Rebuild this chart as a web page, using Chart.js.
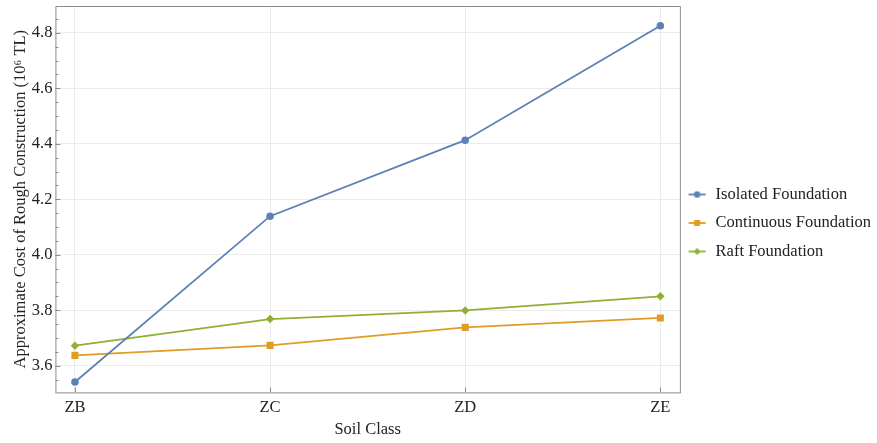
<!DOCTYPE html>
<html>
<head>
<meta charset="utf-8">
<script src="https://cdn.jsdelivr.net/npm/chart.js@4.4.0/dist/chart.umd.min.js"></script>
<style>
    html, body { margin: 0; padding: 0; background: #fff; }
</style>
</head>
<body>
<canvas id="graficoCosto" width="877" height="443"></canvas>
<script>
// Datos
const categorias = ['ZB', 'ZC', 'ZD', 'ZE'];
const isolated = [3.541, 4.139, 4.413, 4.826];
const continuous = [3.637, 3.673, 3.738, 3.772];
const raft = [3.672, 3.768, 3.799, 3.850];
const yTicks = [3.6, 3.8, 4.0, 4.2, 4.4, 4.6, 4.8];
const seriesNames = ['Isolated Foundation', 'Continuous Foundation', 'Raft Foundation'];

const colores = ['#5e81b5', '#e19c24', '#8fb032'];
const marcadores = ['circle', 'rect', 'rectRot'];
const radios = [3.8, 5, 4.2];
const fuente = { family: '"Liberation Serif", "Times New Roman", serif', size: 16.5 };

// Icono de leyenda: segmento con marcador
function iconoLeyenda(i) {
    const c = document.createElement('canvas');
    c.width = 32;
    c.height = 12;
    const ctx = c.getContext('2d');
    ctx.strokeStyle = colores[i];
    ctx.fillStyle = colores[i];
    ctx.lineWidth = 1.8;
    ctx.beginPath();
    ctx.moveTo(5, 6);
    ctx.lineTo(22, 6);
    ctx.stroke();
    Chart.helpers.drawPoint(ctx, { pointStyle: marcadores[i], radius: radios[i] * 0.85, rotation: 0 }, 13.5, 6);
    return c;
}

// Marco gris con marcas hacia dentro
const marco = {
    id: 'marco',
    afterDraw(chart) {
        const { ctx, chartArea: a, scales } = chart;
        ctx.save();
        ctx.strokeStyle = '#8c8c8c';
        ctx.lineWidth = 1;
        ctx.strokeRect(a.left + 0.5, a.top + 0.5, a.right - a.left, a.bottom - a.top);
        ctx.beginPath();
        const y = scales.y;
        for (let v = 3.5; v <= 4.9; v += 0.05) {
            const val = Math.round(v * 100) / 100;
            if (val < y.min || val > y.max) continue;
            const py = Math.round(y.getPixelForValue(val)) + 0.5;
            const mayor = yTicks.some(t => Math.abs(t - val) < 1e-6);
            ctx.moveTo(a.left, py);
            ctx.lineTo(a.left + (mayor ? 5 : 3), py);
        }
        const x = scales.x;
        categorias.forEach((c, i) => {
            const px = Math.round(x.getPixelForValue(i)) + 0.5;
            ctx.moveTo(px, a.bottom);
            ctx.lineTo(px, a.bottom - 5);
        });
        ctx.stroke();
        ctx.restore();
    }
};

const series = [isolated, continuous, raft];

new Chart(document.getElementById('graficoCosto').getContext('2d'), {
    type: 'line',
    data: {
        datasets: series.map((valores, i) => ({
            label: seriesNames[i],
            data: valores.map((v, j) => ({ x: j, y: v })),
            borderColor: colores[i],
            backgroundColor: colores[i],
            borderWidth: 1.8,
            pointStyle: marcadores[i],
            pointRadius: radios[i],
            pointBorderWidth: 0,
            tension: 0
        }))
    },
    options: {
        responsive: false,
        animation: false,
        devicePixelRatio: 1,
        layout: { padding: { left: 6, top: 6, bottom: 3, right: -4 } },
        plugins: {
            tooltip: { enabled: false },
            legend: {
                position: 'right',
                labels: {
                    color: '#222',
                    font: fuente,
                    usePointStyle: true,
                    pointStyleWidth: 15.5,
                    padding: 12,
                    generateLabels: function(chart) {
                        const items = Chart.defaults.plugins.legend.labels.generateLabels(chart);
                        items.forEach((it, i) => { it.pointStyle = iconoLeyenda(i); });
                        return items;
                    }
                }
            }
        },
        scales: {
            x: {
                type: 'linear',
                min: -0.1,
                max: 3.1,
                afterBuildTicks: axis => { axis.ticks = categorias.map((c, i) => ({ value: i })); },
                ticks: {
                    color: '#222',
                    font: fuente,
                    padding: 5,
                    callback: v => categorias[v]
                },
                grid: { color: '#ebebeb', drawTicks: false },
                border: { display: false },
                title: { display: true, text: 'Soil Class', color: '#222', font: fuente, padding: { top: -2, bottom: 0 } }
            },
            y: {
                min: 3.5035,
                max: 4.897,
                afterBuildTicks: axis => { axis.ticks = yTicks.map(v => ({ value: v })); },
                afterFit: axis => { axis.paddingTop = 0; axis.paddingBottom = 0; },
                ticks: {
                    color: '#222',
                    font: fuente,
                    padding: 3,
                    callback: v => v.toFixed(1)
                },
                grid: { color: '#ebebeb', drawTicks: false },
                border: { display: false },
                title: {
                    display: true,
                    text: 'Approximate Cost of Rough Construction (10\u2076 TL)',
                    color: '#222',
                    font: fuente,
                    padding: { top: 5, bottom: -2 }
                }
            }
        }
    },
    plugins: [marco]
});
</script>
</body>
</html>
